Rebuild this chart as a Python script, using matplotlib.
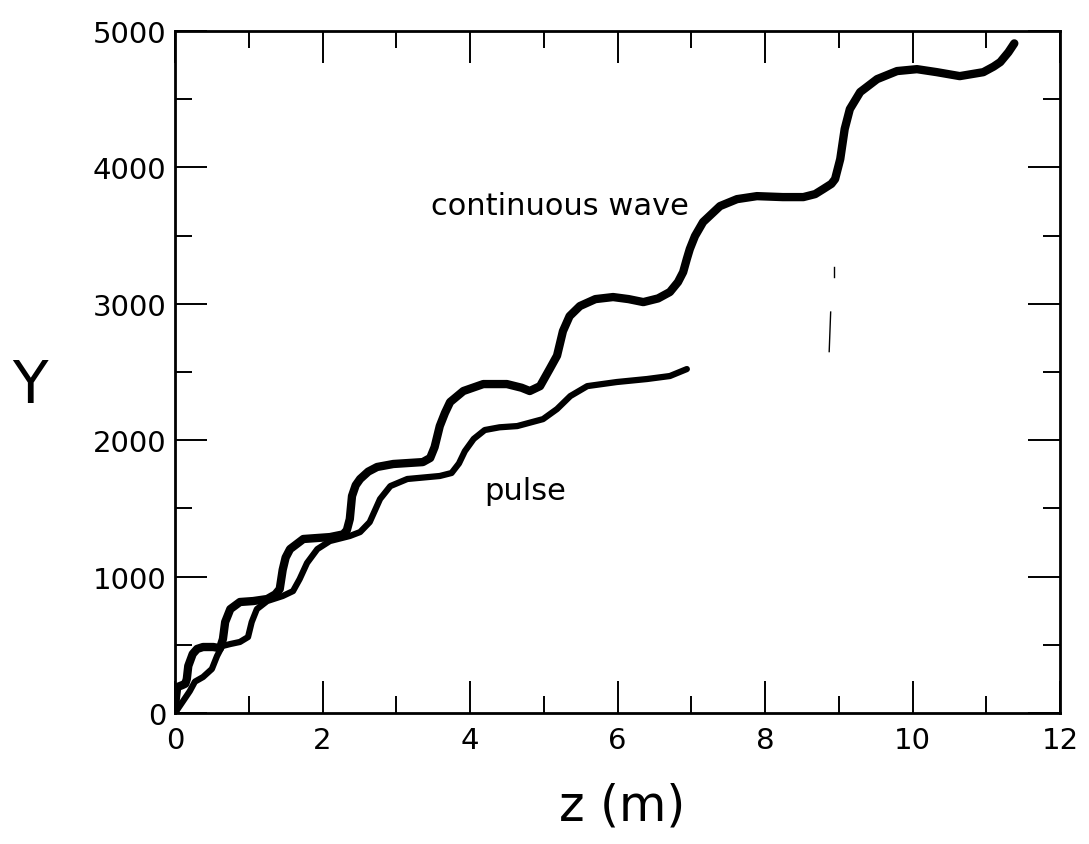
import matplotlib.pyplot as plt
from matplotlib.ticker import MultipleLocator

# continuous wave curve (z in m, Y)
cw_z = [0, 0.01, 0.03, 0.1, 0.14, 0.16, 0.18, 0.24, 0.3, 0.38, 0.52, 0.61, 0.65,
        0.68, 0.75, 0.88, 1.06, 1.25, 1.36, 1.42, 1.46, 1.5, 1.56, 1.74, 2.1, 2.28,
        2.33, 2.37, 2.4, 2.45, 2.51, 2.62, 2.74, 2.96, 3.36, 3.46, 3.52, 3.59, 3.66,
        3.73, 3.91, 4.18, 4.5, 4.7, 4.81, 4.95, 5.08, 5.18, 5.26, 5.35, 5.49, 5.7,
        5.94, 6.15, 6.35, 6.55, 6.71, 6.82, 6.89, 6.94, 6.98, 7.05, 7.16, 7.39, 7.62,
        7.89, 8.24, 8.52, 8.68, 8.79, 8.9, 8.95, 9.02, 9.08, 9.15, 9.29, 9.52, 9.79,
        10.06, 10.33, 10.64, 10.96, 11.1, 11.19, 11.3, 11.38]
cw_y = [0, 100, 190, 205, 215, 249, 345, 433, 470, 484, 484, 475, 543,
        667, 762, 814, 821, 836, 870, 909, 1050, 1140, 1202, 1276, 1290, 1310,
        1340, 1422, 1591, 1670, 1716, 1770, 1804, 1826, 1840, 1870, 1950, 2104, 2200,
        2280, 2361, 2412, 2412, 2385, 2361, 2397, 2522, 2620, 2800, 2910, 2984, 3035,
        3050, 3035, 3013, 3040, 3087, 3160, 3233, 3330, 3402, 3497, 3600, 3717, 3768,
        3790, 3783, 3783, 3805, 3842, 3880, 3915, 4062, 4282, 4428, 4553, 4648, 4707,
        4721, 4699, 4670, 4699, 4740, 4773, 4845, 4910]

# pulse curve
pulse_z = [0, 0.1, 0.2, 0.27, 0.38, 0.5, 0.57, 0.64, 0.75, 0.88, 0.99, 1.04, 1.11,
           1.25, 1.46, 1.6, 1.69, 1.79, 1.93, 2.1, 2.37, 2.51, 2.64, 2.78, 2.92, 3.15,
           3.59, 3.75, 3.85, 3.93, 4.05, 4.2, 4.4, 4.64, 4.99, 5.18, 5.36, 5.59, 5.99,
           6.4, 6.71, 6.94]
pulse_y = [0, 80, 160, 230, 264, 323, 418, 491, 506, 521, 557, 667, 762,
           821, 858, 894, 982, 1100, 1202, 1261, 1298, 1327, 1400, 1569, 1664, 1716,
           1738, 1760, 1830, 1920, 2010, 2075, 2095, 2104, 2155, 2229, 2324, 2397, 2427,
           2449, 2471, 2522]

fig = plt.figure(figsize=(10.89, 8.45), dpi=100)
ax = fig.add_axes([0.1607, 0.155, 0.8127, 0.807])

ax.plot(cw_z, cw_y, color='black', lw=6, solid_capstyle='round', solid_joinstyle='round')
ax.plot(pulse_z, pulse_y, color='black', lw=4.5, solid_capstyle='round', solid_joinstyle='round')

# faint broken mark from the original print
ax.plot([8.93, 8.93], [3200, 3270], color='black', lw=1)
ax.plot([8.87, 8.89], [2650, 2940], color='black', lw=1)

ax.text(5.22, 3720, 'continuous wave', fontsize=22, ha='center', va='center')
ax.text(4.75, 1630, 'pulse', fontsize=22, ha='center', va='center')

ax.set_xlim(0, 12)
ax.set_ylim(0, 5000)
ax.xaxis.set_major_locator(MultipleLocator(2))
ax.xaxis.set_minor_locator(MultipleLocator(1))
ax.yaxis.set_major_locator(MultipleLocator(1000))
ax.yaxis.set_minor_locator(MultipleLocator(500))
ax.tick_params(which='both', direction='in', top=True, right=True, width=1.4)
ax.tick_params(which='major', length=23, labelsize=21)
ax.tick_params(which='minor', length=12)
ax.tick_params(axis='x', pad=9)
ax.tick_params(axis='y', pad=6)
for s in ax.spines.values():
    s.set_linewidth(2)

ax.text(-0.164, 0.48, 'Y', transform=ax.transAxes, fontsize=42, ha='center', va='center')
ax.text(0.505, -0.135, 'z (m)', transform=ax.transAxes, fontsize=35, ha='center', va='center')

fig.savefig('out.png', dpi=100)
